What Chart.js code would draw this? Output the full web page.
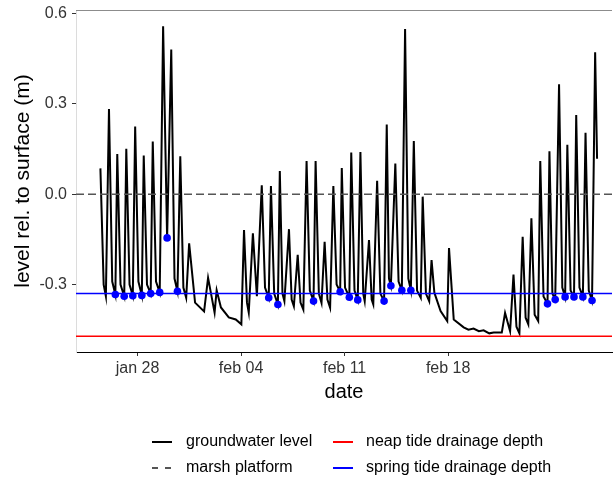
<!DOCTYPE html>
<html>
<head>
<meta charset="utf-8">
<script src="https://cdn.jsdelivr.net/npm/chart.js@4.4.1/dist/chart.umd.min.js"></script>
<style>
  html, body { margin: 0; padding: 0; background: #fff; }
</style>
</head>
<body>
<canvas id="gwChart" width="616" height="484"></canvas>
<script>
// days counted from jan 1 (so feb 1 = 32)
const gwDay = [
  25.49, 25.71, 25.86, 26.07, 26.29, 26.50, 26.63, 26.85, 27.10, 27.24,
  27.46, 27.68, 27.84, 28.06, 28.29, 28.42, 28.64, 28.89, 29.03, 29.25,
  29.50, 29.73, 30.00, 30.28, 30.50, 30.70, 30.89, 31.10, 31.29, 31.49,
  31.89, 32.50, 32.77, 33.21, 33.35, 33.64, 34.17, 34.64, 35.02, 35.20,
  35.40, 35.52, 35.80, 36.07, 36.40, 36.62, 36.87, 37.02, 37.24, 37.49,
  37.62, 37.80, 37.93, 38.24, 38.42, 38.57, 38.83, 39.02, 39.21, 39.43,
  39.65, 39.90, 40.04, 40.26, 40.44, 40.65, 40.84, 41.02, 41.24, 41.46,
  41.70, 41.81, 42.03, 42.32, 42.45, 42.67, 42.89, 43.07, 43.26, 43.36,
  43.65, 43.83, 43.94, 44.20, 44.42, 44.67, 44.85, 45.00, 45.13, 45.43,
  45.65, 45.87, 46.09, 46.31, 46.48, 46.68, 46.90, 47.15, 47.28, 47.50,
  47.72, 47.88, 48.07, 48.49, 48.94, 49.06, 49.38, 50.05, 50.37, 50.72,
  51.08, 51.40, 51.78, 52.08, 52.63, 52.85, 53.19, 53.42, 53.62, 53.82,
  54.04, 54.24, 54.42, 54.63, 54.85, 55.09, 55.23, 55.45, 55.72, 55.85,
  56.05, 56.24, 56.50, 56.72, 56.91, 57.06, 57.28, 57.51, 57.66, 57.88,
  58.11, 58.29, 58.51, 58.73, 58.94, 59.07
];
const gwLevel = [
  0.086, -0.300, -0.339, 0.283, -0.290, -0.333, 0.134, -0.300, -0.339, 0.151,
  -0.300, -0.337, 0.225, -0.290, -0.336, 0.129, -0.300, -0.330, 0.175, -0.290,
  -0.326, 0.558, -0.145, 0.481, -0.280, -0.322, 0.126, -0.310, -0.344, -0.163,
  -0.360, -0.389, -0.278, -0.393, -0.319, -0.376, -0.409, -0.416, -0.432, -0.119,
  -0.360, -0.393, -0.130, -0.339, 0.030, -0.310, -0.344, 0.027, -0.330, -0.366,
  0.077, -0.330, -0.355, -0.116, -0.350, -0.372, -0.201, -0.360, -0.383, 0.110,
  -0.320, -0.355, 0.110, -0.330, -0.361, -0.158, -0.350, -0.377, 0.027, -0.300,
  -0.324, 0.087, -0.310, -0.342, 0.139, -0.320, -0.351, 0.140, -0.330, -0.355,
  -0.152, -0.350, -0.366, 0.045, -0.330, -0.355, 0.232, -0.280, -0.304, 0.102,
  -0.290, -0.319, 0.549, -0.280, -0.319, 0.177, -0.320, -0.344, -0.008, -0.330,
  -0.355, -0.219, -0.327, -0.388, -0.421, -0.179, -0.416, -0.442, -0.450, -0.446,
  -0.455, -0.452, -0.462, -0.459, -0.459, -0.394, -0.455, -0.267, -0.440, -0.462,
  -0.141, -0.410, -0.432, -0.080, -0.400, -0.421, 0.110, -0.340, -0.364, 0.143,
  -0.330, -0.350, 0.365, -0.310, -0.341, 0.164, -0.320, -0.341, 0.263, -0.310,
  -0.341, 0.204, -0.320, -0.353, 0.472, 0.118
];
// low-water points marked in blue
const dotDay = [
  26.50, 27.10, 27.68, 28.29, 28.89, 29.50, 30.00, 30.70,
  36.87, 37.49, 39.90, 41.70, 42.32, 42.89, 44.67, 45.13, 45.87, 46.48,
  55.72, 56.24, 56.91, 57.51, 58.11, 58.73
];
const dotLevel = [
  -0.333, -0.339, -0.337, -0.336, -0.330, -0.326, -0.145, -0.322,
  -0.344, -0.366, -0.355, -0.324, -0.342, -0.351, -0.355, -0.304, -0.319, -0.319,
  -0.364, -0.350, -0.341, -0.341, -0.341, -0.353
];
const marshLevel = 0.0;
const neapDepth = -0.472;
const springDepth = -0.33;

const xRange = [23.84, 60.08];
const yRange = [-0.524, 0.612];
const tickDays = [28, 35, 42, 49];
const tickLabels = ['jan 28', 'feb 04', 'feb 11', 'feb 18'];
const yTicks = [-0.3, 0.0, 0.3, 0.6];

const gwPoints = gwDay.map((d, i) => ({x: d, y: gwLevel[i]}));
const dotPoints = dotDay.map((d, i) => ({x: d, y: dotLevel[i]}));
const hline = v => xRange.map(d => ({x: d, y: v}));

const legendEntries = [
  {text: 'groundwater level', color: '#000000', dash: [], col: 0, row: 0},
  {text: 'marsh platform', color: '#555555', dash: [6, 7], col: 0, row: 1},
  {text: 'neap tide drainage depth', color: '#ff0000', dash: [], col: 1, row: 0},
  {text: 'spring tide drainage depth', color: '#0000ff', dash: [], col: 1, row: 1}
];

const extras = {
  id: 'extras',
  afterDraw(chart) {
    const {ctx, chartArea} = chart;
    ctx.save();
    // top edge of the panel
    ctx.strokeStyle = '#8c8c8c';
    ctx.lineWidth = 1;
    ctx.beginPath();
    ctx.moveTo(chartArea.left, chartArea.top + 0.5);
    ctx.lineTo(chartArea.right, chartArea.top + 0.5);
    ctx.stroke();

    // legend, 2 x 2
    const keyX = [152, 333];
    const textX = [186, 366];
    const rowY = [442, 468];
    ctx.font = '16px "Liberation Sans", Arial, sans-serif';
    ctx.textBaseline = 'middle';
    ctx.textAlign = 'left';
    legendEntries.forEach(e => {
      const y = rowY[e.row];
      ctx.strokeStyle = e.color;
      ctx.lineWidth = 2;
      ctx.setLineDash(e.dash);
      ctx.beginPath();
      ctx.moveTo(keyX[e.col], y);
      ctx.lineTo(keyX[e.col] + 20, y);
      ctx.stroke();
      ctx.setLineDash([]);
      ctx.fillStyle = '#000';
      ctx.fillText(e.text, textX[e.col], y);
    });
    ctx.restore();
  }
};

new Chart(document.getElementById('gwChart'), {
  type: 'line',
  data: {
    datasets: [
      {
        label: 'low water',
        data: dotPoints,
        showLine: false,
        pointRadius: 3.8,
        pointBackgroundColor: '#0000ff',
        pointBorderWidth: 0
      },
      {
        label: 'spring tide drainage depth',
        data: hline(springDepth),
        borderColor: '#0000ff',
        borderWidth: 1.5,
        pointRadius: 0
      },
      {
        label: 'neap tide drainage depth',
        data: hline(neapDepth),
        borderColor: '#ff0000',
        borderWidth: 1.5,
        pointRadius: 0
      },
      {
        label: 'marsh platform',
        data: hline(marshLevel),
        borderColor: '#555555',
        borderWidth: 1.5,
        borderDash: [8, 4],
        pointRadius: 0
      },
      {
        label: 'groundwater level',
        data: gwPoints,
        borderColor: '#000000',
        borderWidth: 2,
        pointRadius: 0,
        tension: 0
      }
    ]
  },
  options: {
    responsive: false,
    animation: false,
    devicePixelRatio: 1,
    layout: { padding: { top: 10, right: 0, bottom: 80, left: 0 } },
    plugins: {
      legend: { display: false },
      tooltip: { enabled: false }
    },
    scales: {
      x: {
        type: 'linear',
        min: xRange[0],
        max: xRange[1],
        afterBuildTicks: s => { s.ticks = tickDays.map(v => ({value: v})); },
        afterFit: s => { s.height = 52; s.paddingLeft = 0; s.paddingRight = 0; },
        ticks: {
          padding: 3,
          color: '#333',
          font: { family: '"Liberation Sans", Arial, sans-serif', size: 16 },
          callback: v => tickLabels[tickDays.indexOf(v)]
        },
        grid: { drawOnChartArea: false, drawTicks: true, tickLength: 4, tickColor: '#333' },
        border: { color: '#000', width: 1 },
        title: {
          display: true,
          text: 'date',
          color: '#000',
          padding: { top: 0, bottom: 0 },
          font: { family: '"Liberation Sans", Arial, sans-serif', size: 20 }
        }
      },
      y: {
        min: yRange[0],
        max: yRange[1],
        afterBuildTicks: s => { s.ticks = yTicks.map(v => ({value: v})); },
        afterFit: s => { s.width = 76; s.paddingTop = 0; s.paddingBottom = 0; },
        ticks: {
          padding: 5,
          color: '#333',
          font: { family: '"Liberation Sans", Arial, sans-serif', size: 16 },
          callback: v => v.toFixed(1)
        },
        grid: { drawOnChartArea: false, drawTicks: true, tickLength: 4, tickColor: '#333' },
        border: { color: '#dcdcdc', width: 1 },
        title: {
          display: true,
          text: 'level rel. to surface (m)',
          color: '#000',
          padding: { top: 11, bottom: 0 },
          font: { family: '"Liberation Sans", Arial, sans-serif', size: 21 }
        }
      }
    }
  },
  plugins: [extras]
});
</script>
</body>
</html>
